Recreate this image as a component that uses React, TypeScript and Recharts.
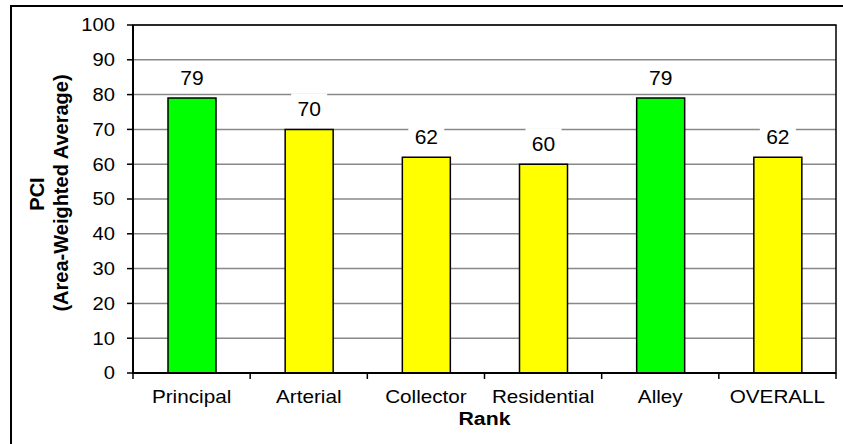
import React from "react";
import { BarChart, Bar, XAxis, YAxis, CartesianGrid, Cell, LabelList, ReferenceArea } from "recharts";

// PCI by functional rank
const CATEGORIES = ["Principal", "Arterial", "Collector", "Residential", "Alley", "OVERALL"];
const PCI_VALUES = [79, 70, 62, 60, 79, 62];
const Y_TICKS = [0, 10, 20, 30, 40, 50, 60, 70, 80, 90, 100];

const W = 843;
const H = 444;
const PLOT_LEFT = 133;
const PLOT_TOP = 25;
const PLOT_RIGHT = 836;
const PLOT_BOTTOM = 373;
const Y_AXIS_W = 60;
const X_AXIS_H = 30;
const FONT = "Arial, 'Liberation Sans', sans-serif";
const GREEN = "#00ff00";
const YELLOW = "#ffff00";

const data = CATEGORIES.map((rank, i) => ({ rank, pci: PCI_VALUES[i] }));

const XTick = (props: any) => {
  const { x, y, payload, index } = props;
  const half = payload.offset || (PLOT_RIGHT - PLOT_LEFT) / CATEGORIES.length / 2;
  return (
    <g>
      <line x1={x - half} x2={x - half} y1={PLOT_BOTTOM} y2={PLOT_BOTTOM + 6} stroke="#000" strokeWidth={1.5} />
      {index === CATEGORIES.length - 1 && (
        <line x1={x + half} x2={x + half} y1={PLOT_BOTTOM} y2={PLOT_BOTTOM + 6} stroke="#000" strokeWidth={1.5} />
      )}
      <text transform={`translate(${x},${y}) scale(1.15,1)`} textAnchor="middle" dy="0.71em"
        fontSize={18} fill="#000" fontFamily={FONT}>
        {payload.value}
      </text>
    </g>
  );
};

const YTick = (props: any) => {
  const { x, y, payload } = props;
  return (
    <text transform={`translate(${x},${y}) scale(1.12,1)`} textAnchor="end" dy="0.355em"
      fontSize={18} fill="#000" fontFamily={FONT}>
      {payload.value}
    </text>
  );
};

const ValueLabel = (props: any) => {
  const { x, y, width, value } = props;
  const cx = Number(x) + Number(width) / 2;
  const top = Number(y);
  return (
    <g>
      <rect x={cx - 18} y={top - 36} width={36} height={26} fill="#fff" />
      <text x={cx} y={top - 13.5} textAnchor="middle" fontSize={21} fill="#000" fontFamily={FONT}>
        {value}
      </text>
    </g>
  );
};

const renderYTitle = () => (
  <g fontFamily={FONT} fontWeight="bold" fontSize={20} fill="#000">
    <text transform="translate(44,194) rotate(-90)" textAnchor="middle">PCI</text>
    <text transform="translate(68,193) rotate(-90)" textAnchor="middle">(Area-Weighted Average)</text>
  </g>
);

const renderXTitle = () => (
  <text transform={`translate(${(PLOT_LEFT + PLOT_RIGHT) / 2},425) scale(1.12,1)`} textAnchor="middle"
    fontFamily={FONT} fontWeight="bold" fontSize={19} fill="#000">
    Rank
  </text>
);

export default function App() {
  return (
    <div style={{ position: "absolute", left: 0, top: 0, width: W, height: H, overflow: "hidden", background: "#fff", fontFamily: FONT }}>
      <div style={{ position: "absolute", left: 10, top: 5, width: 900, height: 500, border: "2px solid #000" }} />
      <div style={{ position: "absolute", left: 0, top: 0 }}>
        <BarChart
          width={W}
          height={H}
          data={data}
          margin={{ top: PLOT_TOP, right: W - PLOT_RIGHT, bottom: H - PLOT_BOTTOM - X_AXIS_H, left: PLOT_LEFT - Y_AXIS_W }}
        >
          <CartesianGrid vertical={false} stroke="#888" strokeWidth={1.5} />
          <XAxis
            dataKey="rank"
            height={X_AXIS_H}
            tick={XTick}
            tickLine={false}
            tickSize={6}
            tickMargin={11}
            axisLine={{ stroke: "#000", strokeWidth: 2 }}
            interval={0}
            label={renderXTitle}
          />
          <YAxis
            width={Y_AXIS_W}
            domain={[0, 100]}
            ticks={Y_TICKS}
            tick={YTick}
            tickSize={6}
            tickMargin={12}
            tickLine={{ stroke: "#000", strokeWidth: 1.5 }}
            axisLine={{ stroke: "#000", strokeWidth: 2 }}
            interval={0}
            label={renderYTitle}
          />
          <ReferenceArea y1={0} y2={100} fill="none" stroke="#000" strokeWidth={1.5} />
          <Bar dataKey="pci" barSize={48} stroke="#000" strokeWidth={1.5} isAnimationActive={false}>
            {PCI_VALUES.map((v, i) => (
              <Cell key={i} fill={v > 70 ? GREEN : YELLOW} />
            ))}
            <LabelList dataKey="pci" content={ValueLabel} />
          </Bar>
        </BarChart>
      </div>
    </div>
  );
}
